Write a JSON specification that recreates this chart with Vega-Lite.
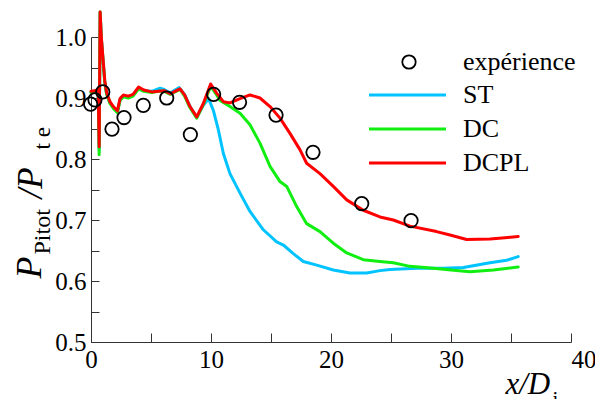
{
  "$schema": "https://vega.github.io/schema/vega-lite/v6.json",
  "width": 480,
  "height": 305,
  "autosize": {"type": "none"},
  "padding": {"left": 91, "top": 37, "right": 24, "bottom": 57},
  "background": "white",
  "config": {
    "view": {"stroke": null},
    "font": "Liberation Serif",
    "axis": {"grid": false, "domainColor": "#333333", "tickColor": "#333333", "labelColor": "black", "titleColor": "black", "titleFontWeight": "normal"}
  },
  "datasets": {
    "exp": [
      {"series": "expérience", "x": -0.03, "y": 0.890},
      {"series": "expérience", "x": 0.33, "y": 0.897},
      {"series": "expérience", "x": 0.98, "y": 0.910},
      {"series": "expérience", "x": 1.75, "y": 0.849},
      {"series": "expérience", "x": 2.75, "y": 0.868},
      {"series": "expérience", "x": 4.36, "y": 0.888},
      {"series": "expérience", "x": 6.31, "y": 0.900},
      {"series": "expérience", "x": 8.28, "y": 0.840},
      {"series": "expérience", "x": 10.22, "y": 0.906},
      {"series": "expérience", "x": 12.38, "y": 0.893},
      {"series": "expérience", "x": 15.42, "y": 0.872},
      {"series": "expérience", "x": 18.5, "y": 0.811},
      {"series": "expérience", "x": 22.56, "y": 0.727},
      {"series": "expérience", "x": 26.67, "y": 0.699}
    ],
    "sim": [
      {"series": "ST", "x": 0, "y": 0.910}, {"series": "ST", "x": 0.3, "y": 0.911}, {"series": "ST", "x": 0.6, "y": 0.912},
      {"series": "ST", "x": 0.68, "y": 0.815}, {"series": "ST", "x": 0.76, "y": 1.04}, {"series": "ST", "x": 0.86, "y": 0.998},
      {"series": "ST", "x": 1.0, "y": 0.963}, {"series": "ST", "x": 1.15, "y": 0.926}, {"series": "ST", "x": 1.3, "y": 0.907},
      {"series": "ST", "x": 1.58, "y": 0.892}, {"series": "ST", "x": 1.86, "y": 0.884}, {"series": "ST", "x": 2.2, "y": 0.877},
      {"series": "ST", "x": 2.42, "y": 0.897}, {"series": "ST", "x": 2.7, "y": 0.903}, {"series": "ST", "x": 3.1, "y": 0.901},
      {"series": "ST", "x": 3.5, "y": 0.904}, {"series": "ST", "x": 3.97, "y": 0.916}, {"series": "ST", "x": 4.4, "y": 0.912},
      {"series": "ST", "x": 5.06, "y": 0.911}, {"series": "ST", "x": 5.75, "y": 0.916}, {"series": "ST", "x": 6.1, "y": 0.914},
      {"series": "ST", "x": 6.6, "y": 0.908}, {"series": "ST", "x": 7.0, "y": 0.913}, {"series": "ST", "x": 7.35, "y": 0.917},
      {"series": "ST", "x": 7.8, "y": 0.906}, {"series": "ST", "x": 8.25, "y": 0.886}, {"series": "ST", "x": 8.81, "y": 0.868},
      {"series": "ST", "x": 9.36, "y": 0.888}, {"series": "ST", "x": 9.8, "y": 0.899}, {"series": "ST", "x": 10.19, "y": 0.880},
      {"series": "ST", "x": 10.61, "y": 0.848}, {"series": "ST", "x": 11.03, "y": 0.809}, {"series": "ST", "x": 11.58, "y": 0.776},
      {"series": "ST", "x": 12.42, "y": 0.744}, {"series": "ST", "x": 13.25, "y": 0.714}, {"series": "ST", "x": 14.36, "y": 0.684},
      {"series": "ST", "x": 15.47, "y": 0.664}, {"series": "ST", "x": 16.03, "y": 0.659}, {"series": "ST", "x": 16.86, "y": 0.645},
      {"series": "ST", "x": 17.69, "y": 0.632}, {"series": "ST", "x": 18.81, "y": 0.626}, {"series": "ST", "x": 20.19, "y": 0.618},
      {"series": "ST", "x": 21.58, "y": 0.613}, {"series": "ST", "x": 22.97, "y": 0.613}, {"series": "ST", "x": 24.08, "y": 0.617},
      {"series": "ST", "x": 24.92, "y": 0.619}, {"series": "ST", "x": 27.14, "y": 0.621}, {"series": "ST", "x": 29.36, "y": 0.621},
      {"series": "ST", "x": 31.03, "y": 0.622}, {"series": "ST", "x": 33.25, "y": 0.630}, {"series": "ST", "x": 34.64, "y": 0.634},
      {"series": "ST", "x": 35.6, "y": 0.640},

      {"series": "DC", "x": 0, "y": 0.909}, {"series": "DC", "x": 0.3, "y": 0.910}, {"series": "DC", "x": 0.6, "y": 0.911},
      {"series": "DC", "x": 0.68, "y": 0.807}, {"series": "DC", "x": 0.76, "y": 1.041}, {"series": "DC", "x": 0.86, "y": 0.998},
      {"series": "DC", "x": 1.0, "y": 0.962}, {"series": "DC", "x": 1.15, "y": 0.925}, {"series": "DC", "x": 1.3, "y": 0.906},
      {"series": "DC", "x": 1.58, "y": 0.891}, {"series": "DC", "x": 1.86, "y": 0.883}, {"series": "DC", "x": 2.2, "y": 0.876},
      {"series": "DC", "x": 2.42, "y": 0.896}, {"series": "DC", "x": 2.7, "y": 0.902}, {"series": "DC", "x": 3.1, "y": 0.900},
      {"series": "DC", "x": 3.5, "y": 0.903}, {"series": "DC", "x": 3.97, "y": 0.915}, {"series": "DC", "x": 4.4, "y": 0.911},
      {"series": "DC", "x": 5.06, "y": 0.909}, {"series": "DC", "x": 5.6, "y": 0.911}, {"series": "DC", "x": 6.1, "y": 0.911},
      {"series": "DC", "x": 6.6, "y": 0.906}, {"series": "DC", "x": 7.0, "y": 0.910}, {"series": "DC", "x": 7.42, "y": 0.914},
      {"series": "DC", "x": 7.8, "y": 0.903}, {"series": "DC", "x": 8.25, "y": 0.884}, {"series": "DC", "x": 8.81, "y": 0.867},
      {"series": "DC", "x": 9.36, "y": 0.889}, {"series": "DC", "x": 9.97, "y": 0.919}, {"series": "DC", "x": 10.47, "y": 0.905},
      {"series": "DC", "x": 10.75, "y": 0.896}, {"series": "DC", "x": 11.58, "y": 0.886}, {"series": "DC", "x": 12.42, "y": 0.875},
      {"series": "DC", "x": 13.25, "y": 0.856}, {"series": "DC", "x": 14.08, "y": 0.826}, {"series": "DC", "x": 14.92, "y": 0.788},
      {"series": "DC", "x": 15.75, "y": 0.763}, {"series": "DC", "x": 16.31, "y": 0.755}, {"series": "DC", "x": 17.14, "y": 0.722},
      {"series": "DC", "x": 17.97, "y": 0.694}, {"series": "DC", "x": 19.08, "y": 0.681}, {"series": "DC", "x": 20.19, "y": 0.662},
      {"series": "DC", "x": 21.31, "y": 0.646}, {"series": "DC", "x": 22.69, "y": 0.635}, {"series": "DC", "x": 24.08, "y": 0.632},
      {"series": "DC", "x": 25.19, "y": 0.630}, {"series": "DC", "x": 26.58, "y": 0.624}, {"series": "DC", "x": 28.53, "y": 0.621},
      {"series": "DC", "x": 30.0, "y": 0.618}, {"series": "DC", "x": 31.58, "y": 0.615}, {"series": "DC", "x": 33.53, "y": 0.618},
      {"series": "DC", "x": 35.6, "y": 0.623},

      {"series": "DCPL", "x": 0, "y": 0.911}, {"series": "DCPL", "x": 0.3, "y": 0.912}, {"series": "DCPL", "x": 0.6, "y": 0.913},
      {"series": "DCPL", "x": 0.68, "y": 0.820}, {"series": "DCPL", "x": 0.76, "y": 1.041}, {"series": "DCPL", "x": 0.86, "y": 1.0},
      {"series": "DCPL", "x": 1.0, "y": 0.965}, {"series": "DCPL", "x": 1.15, "y": 0.928}, {"series": "DCPL", "x": 1.3, "y": 0.909},
      {"series": "DCPL", "x": 1.58, "y": 0.894}, {"series": "DCPL", "x": 1.86, "y": 0.886}, {"series": "DCPL", "x": 2.2, "y": 0.879},
      {"series": "DCPL", "x": 2.42, "y": 0.899}, {"series": "DCPL", "x": 2.7, "y": 0.905}, {"series": "DCPL", "x": 3.1, "y": 0.903},
      {"series": "DCPL", "x": 3.5, "y": 0.906}, {"series": "DCPL", "x": 3.97, "y": 0.918}, {"series": "DCPL", "x": 4.4, "y": 0.913},
      {"series": "DCPL", "x": 5.06, "y": 0.910}, {"series": "DCPL", "x": 5.6, "y": 0.911}, {"series": "DCPL", "x": 6.1, "y": 0.912},
      {"series": "DCPL", "x": 6.6, "y": 0.907}, {"series": "DCPL", "x": 7.0, "y": 0.911}, {"series": "DCPL", "x": 7.42, "y": 0.915},
      {"series": "DCPL", "x": 7.8, "y": 0.905}, {"series": "DCPL", "x": 8.25, "y": 0.886}, {"series": "DCPL", "x": 8.81, "y": 0.869},
      {"series": "DCPL", "x": 9.36, "y": 0.891}, {"series": "DCPL", "x": 9.97, "y": 0.923}, {"series": "DCPL", "x": 10.47, "y": 0.908},
      {"series": "DCPL", "x": 11.03, "y": 0.894}, {"series": "DCPL", "x": 11.58, "y": 0.892}, {"series": "DCPL", "x": 12.42, "y": 0.899},
      {"series": "DCPL", "x": 13.25, "y": 0.905}, {"series": "DCPL", "x": 14.08, "y": 0.900}, {"series": "DCPL", "x": 14.92, "y": 0.886},
      {"series": "DCPL", "x": 15.75, "y": 0.867}, {"series": "DCPL", "x": 16.58, "y": 0.842}, {"series": "DCPL", "x": 17.42, "y": 0.815},
      {"series": "DCPL", "x": 17.97, "y": 0.793}, {"series": "DCPL", "x": 19.08, "y": 0.776}, {"series": "DCPL", "x": 20.19, "y": 0.755},
      {"series": "DCPL", "x": 21.31, "y": 0.733}, {"series": "DCPL", "x": 22.69, "y": 0.716}, {"series": "DCPL", "x": 24.08, "y": 0.705},
      {"series": "DCPL", "x": 25.19, "y": 0.700}, {"series": "DCPL", "x": 26.58, "y": 0.690}, {"series": "DCPL", "x": 28.8, "y": 0.681},
      {"series": "DCPL", "x": 30.0, "y": 0.675}, {"series": "DCPL", "x": 31.3, "y": 0.668}, {"series": "DCPL", "x": 33.25, "y": 0.669},
      {"series": "DCPL", "x": 34.5, "y": 0.671}, {"series": "DCPL", "x": 35.6, "y": 0.673}
    ]
  },
  "layer": [
    {
      "data": {"name": "sim"},
      "transform": [{"filter": "datum.series === 'ST'"}],
      "mark": {"type": "line", "strokeWidth": 3, "strokeJoin": "round", "strokeCap": "round"},
      "encoding": {
        "x": {"field": "x", "type": "quantitative", "scale": {"domain": [0, 40], "nice": false, "zero": false},
          "axis": {"orient": "bottom", "labels": false, "ticks": false, "domain": false, "grid": false,
            "title": "i", "titleFont": "Liberation Serif", "titleFontSize": 21, "titleFontWeight": "normal", "titleFontStyle": "normal",
            "titleX": 461, "titleY": 63, "titleAngle": 0, "titleAlign": "left", "titleBaseline": "alphabetic"}},
        "y": {"field": "y", "type": "quantitative", "scale": {"domain": [0.5, 1.0], "nice": false, "zero": false},
          "axis": {"orient": "left", "labels": false, "ticks": false, "domain": false, "grid": false,
            "title": "Pitot", "titleFont": "Liberation Serif", "titleFontSize": 24, "titleFontWeight": "normal", "titleFontStyle": "normal",
            "titleX": -42, "titleY": 217, "titleAngle": 270, "titleAlign": "left", "titleBaseline": "alphabetic"}},
        "color": {"field": "series", "type": "nominal",
          "scale": {"domain": ["ST", "DC", "DCPL"], "range": ["#00c3ff", "#11ee11", "#ff0000"]},
          "legend": {"orient": "none", "legendX": 276.5, "legendY": 41, "title": null, "symbolType": "stroke", "symbolSize": 5929,
            "symbolStrokeWidth": 3, "labelFont": "Liberation Serif", "labelFontSize": 26, "labelColor": "black", "labelOffset": 15.5,
            "clipHeight": 34, "rowPadding": 0, "padding": 0}}
      }
    },
    {
      "data": {"name": "sim"},
      "transform": [{"filter": "datum.series === 'DC'"}],
      "mark": {"type": "line", "strokeWidth": 3, "strokeJoin": "round", "strokeCap": "round"},
      "encoding": {
        "x": {"field": "x", "type": "quantitative", "scale": {"domain": [0, 40], "nice": false, "zero": false}, "axis": null},
        "y": {"field": "y", "type": "quantitative", "scale": {"domain": [0.5, 1.0], "nice": false, "zero": false},
          "axis": {"orient": "left", "labels": false, "ticks": false, "domain": false, "grid": false,
            "title": "/P", "titleFont": "Liberation Serif", "titleFontSize": 35, "titleFontWeight": "normal", "titleFontStyle": "italic",
            "titleX": -50, "titleY": 161, "titleAngle": 270, "titleAlign": "left", "titleBaseline": "alphabetic"}},
        "color": {"field": "series", "type": "nominal", "scale": {"domain": ["ST", "DC", "DCPL"], "range": ["#00c3ff", "#11ee11", "#ff0000"]}}
      }
    },
    {
      "data": {"name": "sim"},
      "transform": [{"filter": "datum.series === 'DCPL'"}],
      "mark": {"type": "line", "strokeWidth": 3, "strokeJoin": "round", "strokeCap": "round"},
      "encoding": {
        "x": {"field": "x", "type": "quantitative", "scale": {"domain": [0, 40], "nice": false, "zero": false}, "axis": null},
        "y": {"field": "y", "type": "quantitative", "scale": {"domain": [0.5, 1.0], "nice": false, "zero": false},
          "axis": {"orient": "left", "labels": false, "ticks": false, "domain": false, "grid": false,
            "title": "t e", "titleFont": "Liberation Serif", "titleFontSize": 23, "titleFontWeight": "normal", "titleFontStyle": "normal",
            "titleX": -42, "titleY": 112, "titleAngle": 270, "titleAlign": "left", "titleBaseline": "alphabetic"}},
        "color": {"field": "series", "type": "nominal", "scale": {"domain": ["ST", "DC", "DCPL"], "range": ["#00c3ff", "#11ee11", "#ff0000"]}}
      }
    },
    {
      "data": {"name": "exp"},
      "mark": {"type": "point", "filled": false, "size": 180, "strokeWidth": 1.8, "color": "black", "opacity": 1},
      "encoding": {
        "x": {"field": "x", "type": "quantitative", "scale": {"domain": [0, 40], "nice": false, "zero": false},
          "axis": {"orient": "bottom", "values": [0, 5, 10, 15, 20, 25, 30, 35, 40],
            "labelExpr": "datum.value % 10 === 0 ? format(datum.value, 'd') : ''",
            "labelFont": "Liberation Serif", "labelFontSize": 25, "labelPadding": 14, "labelOverlap": false, "labelBound": false, "labelFlush": false,
            "labelAlign": {"condition": {"test": "datum.value == 40", "value": "left"}, "value": "center"},
            "tickSize": -9, "tickWidth": 1, "domainWidth": 1,
            "title": "x/D", "titleFont": "Liberation Serif", "titleFontSize": 31, "titleFontWeight": "normal", "titleFontStyle": "italic",
            "titleX": 414, "titleY": 51, "titleAngle": 0, "titleAlign": "left", "titleBaseline": "alphabetic"}},
        "y": {"field": "y", "type": "quantitative", "scale": {"domain": [0.5, 1.0], "nice": false, "zero": false},
          "axis": {"orient": "left", "values": [0.5, 0.55, 0.6, 0.65, 0.7, 0.75, 0.8, 0.85, 0.9, 0.95, 1.0],
            "labelExpr": "abs(datum.value * 10 - round(datum.value * 10)) < 0.001 ? format(datum.value, '.1f') : ''",
            "labelFont": "Liberation Serif", "labelFontSize": 25, "labelPadding": 13, "labelOverlap": false, "labelBound": false, "labelFlush": false,
            "tickSize": -8, "tickWidth": 1, "domainWidth": 1,
            "title": "P", "titleFont": "Liberation Serif", "titleFontSize": 36, "titleFontWeight": "normal", "titleFontStyle": "italic",
            "titleX": -51, "titleY": 241, "titleAngle": 270, "titleAlign": "left", "titleBaseline": "alphabetic"}},
        "shape": {"field": "series", "type": "nominal", "scale": {"domain": ["expérience"], "range": ["circle"]},
          "legend": {"orient": "none", "legendX": 305, "legendY": 12, "title": null, "symbolType": "circle", "symbolSize": 180,
            "symbolStrokeWidth": 1.8, "symbolStrokeColor": "black", "symbolFillColor": "transparent",
            "labelFont": "Liberation Serif", "labelFontSize": 26, "labelColor": "black", "labelOffset": 41, "padding": 0}}
      }
    }
  ],
  "resolve": {
    "scale": {"x": "shared", "y": "shared"},
    "axis": {"x": "independent", "y": "independent"}
  }
}
